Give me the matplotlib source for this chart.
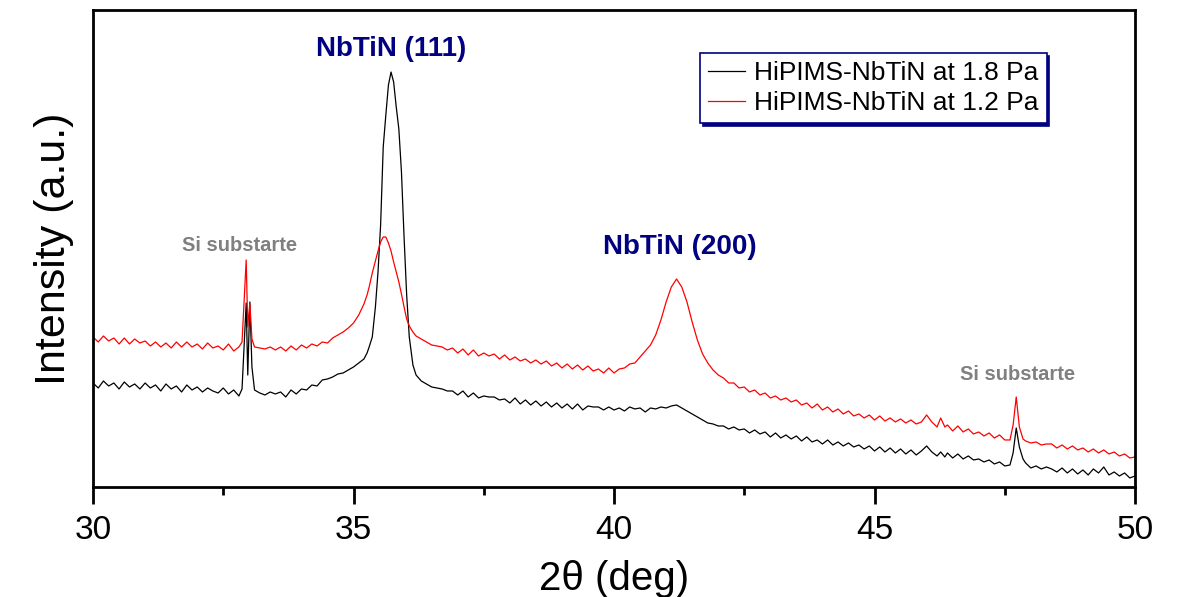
#!/usr/bin/env python3
"""XRD patterns of HiPIMS NbTiN films grown at 1.8 Pa and 1.2 Pa."""
import matplotlib

matplotlib.use("Agg")
import matplotlib.pyplot as plt
from matplotlib.ticker import MultipleLocator

plt.rcParams["font.family"] = ["Liberation Sans", "DejaVu Sans"]

# 2theta (deg)
two_theta = [
    30.0, 30.1, 30.2, 30.3, 30.4, 30.5, 30.6, 30.7, 30.8, 30.9,
    31.0, 31.1, 31.2, 31.3, 31.4, 31.5, 31.6, 31.7, 31.8, 31.9,
    32.0, 32.1, 32.2, 32.3, 32.4, 32.5, 32.6, 32.7, 32.8, 32.86,
    32.9, 32.94, 32.97, 33.01, 33.05, 33.1, 33.2, 33.3, 33.4, 33.5,
    33.6, 33.7, 33.8, 33.9, 34.0, 34.1, 34.2, 34.3, 34.4, 34.5,
    34.6, 34.7, 34.8, 34.9, 35.0, 35.1, 35.2, 35.26, 35.3, 35.36,
    35.42, 35.47, 35.52, 35.57, 35.62, 35.67, 35.72, 35.77, 35.82, 35.87,
    35.92, 35.97, 36.02, 36.07, 36.14, 36.2, 36.3, 36.4, 36.5, 36.6,
    36.7, 36.8, 36.9, 37.0, 37.1, 37.2, 37.3, 37.4, 37.5, 37.6,
    37.7, 37.8, 37.9, 38.0, 38.1, 38.2, 38.3, 38.4, 38.5, 38.6,
    38.7, 38.8, 38.9, 39.0, 39.1, 39.2, 39.3, 39.4, 39.5, 39.6,
    39.7, 39.8, 39.9, 40.0, 40.1, 40.2, 40.3, 40.4, 40.5, 40.6,
    40.7, 40.8, 40.9, 41.0, 41.1, 41.2, 41.3, 41.4, 41.5, 41.6,
    41.7, 41.8, 41.9, 42.0, 42.1, 42.2, 42.3, 42.4, 42.5, 42.6,
    42.7, 42.8, 42.9, 43.0, 43.1, 43.2, 43.3, 43.4, 43.5, 43.6,
    43.7, 43.8, 43.9, 44.0, 44.1, 44.2, 44.3, 44.4, 44.5, 44.6,
    44.7, 44.8, 44.9, 45.0, 45.1, 45.2, 45.3, 45.4, 45.5, 45.6,
    45.7, 45.8, 45.9, 46.0, 46.1, 46.2, 46.27, 46.35, 46.4, 46.5,
    46.6, 46.7, 46.8, 46.9, 47.0, 47.1, 47.2, 47.3, 47.4, 47.5,
    47.6, 47.66, 47.72, 47.78, 47.85, 47.9, 48.0, 48.1, 48.2, 48.3,
    48.4, 48.5, 48.6, 48.7, 48.8, 48.9, 49.0, 49.1, 49.2, 49.3,
    49.4, 49.5, 49.6, 49.7, 49.8, 49.9, 50.0,
]

# intensity (a.u.), 1.8 Pa film
int_18pa = [
    104, 99, 106, 101, 104, 98, 105, 100, 103, 98,
    104, 99, 102, 96, 103, 98, 101, 95, 102, 97,
    100, 95, 99, 96, 94, 99, 93, 97, 91, 98,
    140, 184, 112, 185, 120, 97, 94, 92, 95, 93,
    95, 90, 97, 93, 98, 97, 102, 101, 107, 108,
    110, 113, 114, 117, 120, 124, 128, 134, 140, 150,
    180, 215, 262, 340, 372, 402, 415, 405, 380, 358,
    315, 250, 192, 150, 122, 112, 106, 103, 100, 99,
    98, 96, 96, 92, 96, 90, 94, 89, 91, 90,
    90, 87, 88, 84, 89, 83, 87, 82, 86, 81,
    85, 80, 84, 79, 83, 78, 83, 77, 81, 80,
    80, 77, 80, 77, 79, 76, 80, 78, 79, 75,
    79, 78, 80, 79, 81, 82, 79, 76, 73, 70,
    67, 64, 63, 61, 61, 58, 60, 57, 58, 54,
    57, 53, 55, 50, 54, 49, 52, 48, 51, 46,
    50, 45, 47, 43, 47, 42, 45, 41, 44, 40,
    42, 38, 41, 36, 40, 35, 39, 34, 38, 33,
    37, 32, 36, 41, 35, 31, 35, 30, 34, 29,
    33, 28, 31, 27, 28, 25, 27, 23, 25, 21,
    22, 34, 59, 40, 28, 24, 19, 21, 18, 20,
    18, 15, 19, 14, 18, 13, 17, 12, 18, 14,
    20, 12, 15, 11, 14, 9, 11,
]

# intensity (a.u.), 1.2 Pa film
int_12pa = [
    150, 145, 151, 146, 149, 143, 149, 143, 148, 144,
    146, 141, 145, 140, 144, 139, 145, 140, 145, 140,
    143, 138, 144, 139, 141, 137, 143, 136, 140, 145,
    185, 227, 160, 184, 148, 140, 139, 138, 140, 137,
    140, 136, 141, 137, 142, 139, 143, 141, 145, 144,
    149, 152, 155, 159, 164, 172, 183, 192, 200, 214,
    226, 236, 245, 250, 250, 244, 236, 225, 215, 205,
    193, 180, 168, 161, 155, 151, 148, 145, 142, 141,
    140, 137, 139, 134, 138, 132, 137, 131, 134, 131,
    133, 128, 132, 127, 130, 126, 128, 124, 127, 123,
    126, 121, 124, 119, 123, 118, 122, 117, 121, 116,
    118, 114, 119, 114, 118, 119, 123, 124, 130, 136,
    142, 152, 167, 185, 200, 208, 200, 185, 165, 147,
    133, 124, 117, 112, 109, 104, 104, 99, 100, 95,
    97, 92, 94, 89, 91, 87, 89, 85, 87, 82,
    84, 79, 83, 77, 80, 75, 78, 73, 76, 71,
    73, 69, 72, 67, 71, 66, 69, 65, 68, 64,
    67, 63, 65, 72, 65, 60, 69, 60, 62, 56,
    61, 55, 58, 53, 55, 51, 54, 49, 52, 47,
    47, 62, 90, 60, 48, 46, 44, 45, 42, 43,
    43, 39, 42, 38, 41, 37, 39, 35, 38, 34,
    37, 33, 35, 31, 33, 29, 30,
]

series_labels = ["HiPIMS-NbTiN at 1.8 Pa", "HiPIMS-NbTiN at 1.2 Pa"]

# (text, 2theta, intensity, colour, size)
annotations = [
    ("NbTiN (111)", 35.72, 438, "#000080", 20),
    ("NbTiN (200)", 41.27, 240, "#000080", 20),
    ("Si substarte", 32.82, 242, "#808080", 14.5),
    ("Si substarte", 47.75, 112, "#808080", 14.5),
]

NAVY = "#000080"

fig = plt.figure(figsize=(11.79, 5.97), dpi=100)
ax = fig.add_axes([0.0789, 0.1843, 0.8838, 0.7989])

ax.plot(two_theta, int_18pa, color="black", lw=0.9, label=series_labels[0])
ax.plot(two_theta, int_12pa, color="#ff0000", lw=0.9, label=series_labels[1])

for text, xx, yy, col, fs in annotations:
    ax.text(xx, yy, text, color=col, fontsize=fs, fontweight="bold",
            ha="center", va="center")

ax.set_xlim(30, 50)
ax.set_ylim(0, 477)
ax.xaxis.set_major_locator(MultipleLocator(5))
ax.xaxis.set_minor_locator(MultipleLocator(2.5))
ax.set_yticks([])
ax.tick_params(axis="x", which="major", direction="out", length=12, width=2,
               labelsize=24, pad=8)
ax.tick_params(axis="x", which="minor", direction="out", length=6, width=2)
for spine in ax.spines.values():
    spine.set_linewidth(2)

ax.set_xlabel("2\u03b8 (deg)", fontsize=29, labelpad=10)
ax.set_ylabel("Intensity (a.u.)", fontsize=31, labelpad=14)

leg = ax.legend(loc="upper left", bbox_to_anchor=(0.5825, 0.91),
                borderaxespad=0, fontsize=19, frameon=True, fancybox=False,
                handlelength=1.4, handletextpad=0.35, borderpad=0.3,
                labelspacing=0.25, framealpha=1,
                shadow={"color": NAVY, "alpha": 1.0})
leg.get_frame().set_edgecolor(NAVY)
leg.get_frame().set_linewidth(1.2)

fig.savefig("out.png", dpi=100)
